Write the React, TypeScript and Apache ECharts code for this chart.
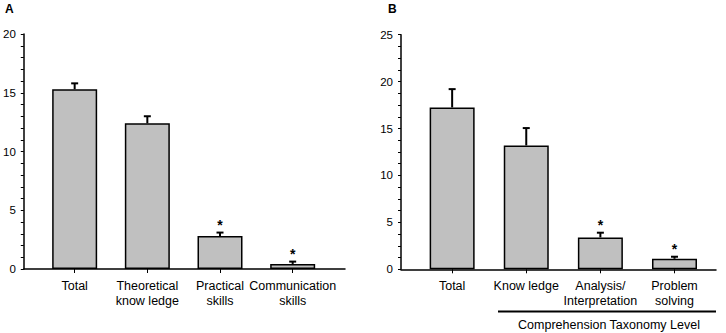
import React, { useEffect, useRef } from "react";
import * as echarts from "echarts";

const categoriesA = ["Total", "Theoretical\nknow ledge", "Practical\nskills", "Communication\nskills"];
const valuesA = [15.3, 12.4, 2.8, 0.43];
const errorsA = [0.5, 0.6, 0.3, 0.2];
const significantA = [false, false, true, true];

const categoriesB = ["Total", "Know ledge", "Analysis/\nInterpretation", "Problem\nsolving"];
const valuesB = [17.25, 13.2, 3.4, 1.12];
const errorsB = [1.95, 1.85, 0.5, 0.22];
const significantB = [false, false, true, true];

const ticksA = { min: 0, max: 20, interval: 5, minor: 5 };
const ticksB = { min: 0, max: 25, interval: 5, minor: 4 };

const FONT = "'Liberation Sans', Arial, sans-serif";

function errRows(values: number[], errors: number[], sig: boolean[]) {
  return values.map((v, i) => [i + 1, v, v + errors[i], sig[i] ? 1 : 0]);
}

function renderErr(params: any, api: any) {
  const x = api.value(0);
  const v = api.value(1);
  const e = api.value(2);
  const s = api.value(3);
  const p0 = api.coord([x, v]);
  const p1 = api.coord([x, e]);
  const children: any[] = [
    {
      type: "line",
      shape: { x1: p0[0], y1: p0[1], x2: p1[0], y2: p1[1] },
      style: { stroke: "#000", lineWidth: 2 },
    },
    {
      type: "line",
      shape: { x1: p1[0] - 3.5, y1: p1[1], x2: p1[0] + 3.5, y2: p1[1] },
      style: { stroke: "#000", lineWidth: 2 },
    },
  ];
  if (s) {
    children.push({
      type: "text",
      style: {
        text: "*",
        x: p1[0],
        y: p1[1] - 7.5,
        align: "center",
        verticalAlign: "middle",
        font: `bold 14px ${FONT}`,
        fill: "#000",
      },
    });
  }
  return { type: "group", children };
}

function yAxisCfg(gridIndex: number, t: any) {
  return {
    type: "value",
    gridIndex,
    min: t.min,
    max: t.max,
    interval: t.interval,
    axisLine: { show: true, lineStyle: { color: "#000", width: 1.5 } },
    axisTick: { show: true, length: 3, lineStyle: { color: "#000", width: 1 } },
    minorTick: { show: true, splitNumber: t.minor, length: 3, lineStyle: { color: "#000", width: 1 } },
    splitLine: { show: false },
    minorSplitLine: { show: false },
    axisLabel: { color: "#000", fontSize: 11.5, fontFamily: FONT, margin: 8 },
  };
}

function xAxisCfg(gridIndex: number, min: number, max: number, cats: string[]) {
  const vals = cats.map((_, i) => i + 1);
  return {
    type: "value",
    gridIndex,
    min,
    max,
    axisLine: { show: true, lineStyle: { color: "#000", width: 1.5 } },
    axisTick: { show: true, customValues: vals, length: 4, lineStyle: { color: "#000", width: 1 } },
    splitLine: { show: false },
    axisLabel: {
      customValues: vals,
      formatter: (v: number) => cats[Math.round(v) - 1] ?? "",
      color: "#000",
      fontSize: 12.5,
      lineHeight: 15,
      fontFamily: FONT,
      margin: 9,
    },
  };
}

export default function App() {
  const ref = useRef<HTMLDivElement>(null);
  useEffect(() => {
    if (!ref.current) return;
    const chart = echarts.init(ref.current, null, { renderer: "svg" });
    const barStyle = { color: "#c0c0c0", borderColor: "#000", borderWidth: 1.5 };
    chart.setOption({
      animation: false,
      backgroundColor: "#fff",
      grid: [
        { left: 19, top: 34, width: 326, height: 235 },
        { left: 401, top: 34.7, width: 315, height: 234.6 },
      ],
      xAxis: [xAxisCfg(0, 0.3, 4.72, categoriesA), xAxisCfg(1, 0.31, 4.56, categoriesB)],
      yAxis: [yAxisCfg(0, ticksA), yAxisCfg(1, ticksB)],
      series: [
        {
          type: "bar",
          xAxisIndex: 0,
          yAxisIndex: 0,
          barWidth: 45,
          itemStyle: barStyle,
          data: valuesA.map((v, i) => [i + 1, v]),
        },
        {
          type: "custom",
          xAxisIndex: 0,
          yAxisIndex: 0,
          renderItem: renderErr,
          data: errRows(valuesA, errorsA, significantA),
          z: 5,
        },
        {
          type: "bar",
          xAxisIndex: 1,
          yAxisIndex: 1,
          barWidth: 45,
          itemStyle: barStyle,
          data: valuesB.map((v, i) => [i + 1, v]),
        },
        {
          type: "custom",
          xAxisIndex: 1,
          yAxisIndex: 1,
          renderItem: renderErr,
          data: errRows(valuesB, errorsB, significantB),
          z: 5,
        },
      ],
      graphic: [
        {
          type: "text",
          left: 5,
          top: 3,
          style: { text: "A", font: `bold 12px ${FONT}`, fill: "#000" },
        },
        {
          type: "text",
          left: 388,
          top: 3,
          style: { text: "B", font: `bold 12px ${FONT}`, fill: "#000" },
        },
        {
          type: "line",
          shape: { x1: 498, y1: 311.5, x2: 716, y2: 311.5 },
          style: { stroke: "#000", lineWidth: 2 },
        },
        {
          type: "text",
          x: 609,
          y: 324.5,
          style: {
            text: "Comprehension Taxonomy Level",
            font: `12.5px ${FONT}`,
            fill: "#000",
            align: "center",
            verticalAlign: "middle",
          },
        },
      ],
    });
    return () => chart.dispose();
  }, []);
  return (
    <div
      ref={ref}
      style={{ position: "absolute", left: 0, top: 0, width: 726, height: 333 }}
    />
  );
}
